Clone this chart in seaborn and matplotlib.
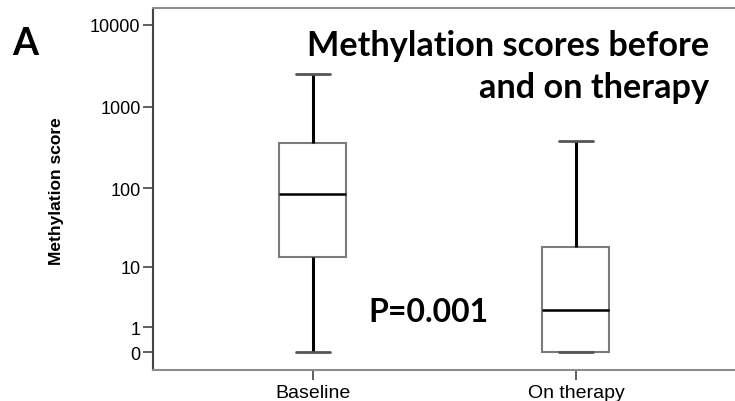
import numpy as np
import pandas as pd
import matplotlib
matplotlib.use("Agg")
import matplotlib.pyplot as plt
import seaborn as sns

# Five-number summaries (min, Q1, median, Q3, max) of the methylation score
groups = ["Baseline", "On therapy"]
baseline_scores = [0, 13.5, 85, 360, 2500]
on_therapy_scores = [0, 0, 2.3, 18, 380]
y_ticks = [0, 1, 10, 100, 1000, 10000]
y_tick_labels = ["0", "1", "10", "100", "1000", "10000"]
title_lines = ["Methylation scores before", "and on therapy"]
p_value_text = "P=0.001"
panel_letter = "A"

df = pd.DataFrame({
    "group": [groups[0]] * len(baseline_scores) + [groups[1]] * len(on_therapy_scores),
    "score": baseline_scores + on_therapy_scores,
})

sns.set_theme(style="white")
plt.rcParams["font.family"] = ["Liberation Sans", "DejaVu Sans"]

fig = plt.figure(figsize=(7.35, 4.02), dpi=100)
ax = fig.add_axes([153 / 735, 1 - 371 / 402, 1 - 153 / 735, (371 - 9) / 402])

# log10(x + 1) axis so that zero can be shown
ax.set_yscale("function", functions=(lambda v: np.log10(np.maximum(v + 1, 1e-12)),
                                     lambda v: 10 ** v - 1))

sns.boxplot(
    data=df, x="group", y="score", ax=ax,
    whis=(0, 100), width=0.255, color="white", linecolor="#7a7a7a", linewidth=1.5,
    showfliers=False,
    medianprops=dict(color="black", linewidth=1.8),
    whiskerprops=dict(color="black", linewidth=2.2),
    capprops=dict(color="#555555", linewidth=2.0),
)

ax.set_ylim(-0.397, 16140)
ax.set_xlim(-0.608, 1.605)
ax.set_yticks(y_ticks)
ax.set_yticklabels(y_tick_labels)
ax.yaxis.set_minor_locator(matplotlib.ticker.NullLocator())
ax.set_xlabel("")
ax.set_ylabel("Methylation score", fontsize=12.5, fontweight="bold", color="black")
ax.yaxis.set_label_coords(-0.153, 0.497)

ax.tick_params(axis="y", direction="out", length=7, width=1.2, color="#444444",
               labelsize=13, pad=2, labelcolor="black", left=True)
ax.tick_params(axis="x", direction="out", length=7, width=1.2, color="#444444",
               labelsize=14, pad=3, labelcolor="black", bottom=True)

for side, col in [("top", "#8c8c8c"), ("bottom", "#8c8c8c"), ("left", "#444444")]:
    ax.spines[side].set_color(col)
    ax.spines[side].set_linewidth(1.5)
ax.spines["right"].set_visible(False)

bold = dict(family=["Lato", "DejaVu Sans"], fontweight="bold", color="black")
fig.text(709 / 735, 1 - 56 / 402, title_lines[0], ha="right", va="baseline", fontsize=24.7, **bold)
fig.text(709 / 735, 1 - 98 / 402, title_lines[1], ha="right", va="baseline", fontsize=24.7, **bold)
fig.text(368 / 735, 1 - 322 / 402, p_value_text, ha="left", va="baseline", fontsize=23, **bold)
fig.text(12 / 735, 1 - 55 / 402, panel_letter, ha="left", va="baseline", fontsize=27, **bold)

fig.savefig("out.png", dpi=100)
